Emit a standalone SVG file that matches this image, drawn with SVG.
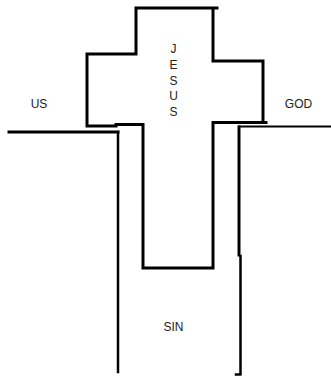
<svg xmlns="http://www.w3.org/2000/svg" width="331" height="379" viewBox="0 0 331 379">
<style>
.ln{fill:none;stroke:#000;stroke-linecap:square;stroke-linejoin:miter}
.t{font-family:"Liberation Sans",Arial,sans-serif;font-size:12px;fill:#222;text-anchor:middle}
</style>
<rect width="331" height="379" fill="#fff"/>
<g id="cross">
<path class="ln" stroke-width="3" d="M136,8 H217 M136,8 V53 M87,54 H136 M87,54 V126 M87,126 H116 M116,124.5 H143 M143,124.5 V268 M143,268 H213 M213,268 V122.5 M213,122.5 H266 M263,122.5 V61 M213,61 H263 M213,8 V61"/>
</g>
<g id="left-cliff">
<path class="ln" stroke-width="3" d="M9,132 H118"/>
<path class="ln" stroke-width="2.5" d="M118,132 V372"/>
</g>
<g id="right-cliff">
<path class="ln" stroke-width="2" d="M239,126.5 H331"/>
<path class="ln" stroke-width="3" d="M239,127 V255"/>
<path class="ln" stroke-width="2.5" d="M240.5,256 V374 M236,374.5 H240"/>
</g>
<g id="labels">
<text class="t" x="39" y="108">US</text>
<text class="t" x="298.5" y="108">GOD</text>
<text class="t" x="173.5" y="331">SIN</text>
<text class="t" x="173.5" y="53">J</text>
<text class="t" x="173.5" y="69">E</text>
<text class="t" x="173.5" y="84.5">S</text>
<text class="t" x="173.5" y="100">U</text>
<text class="t" x="173.5" y="116">S</text>
</g>
</svg>
